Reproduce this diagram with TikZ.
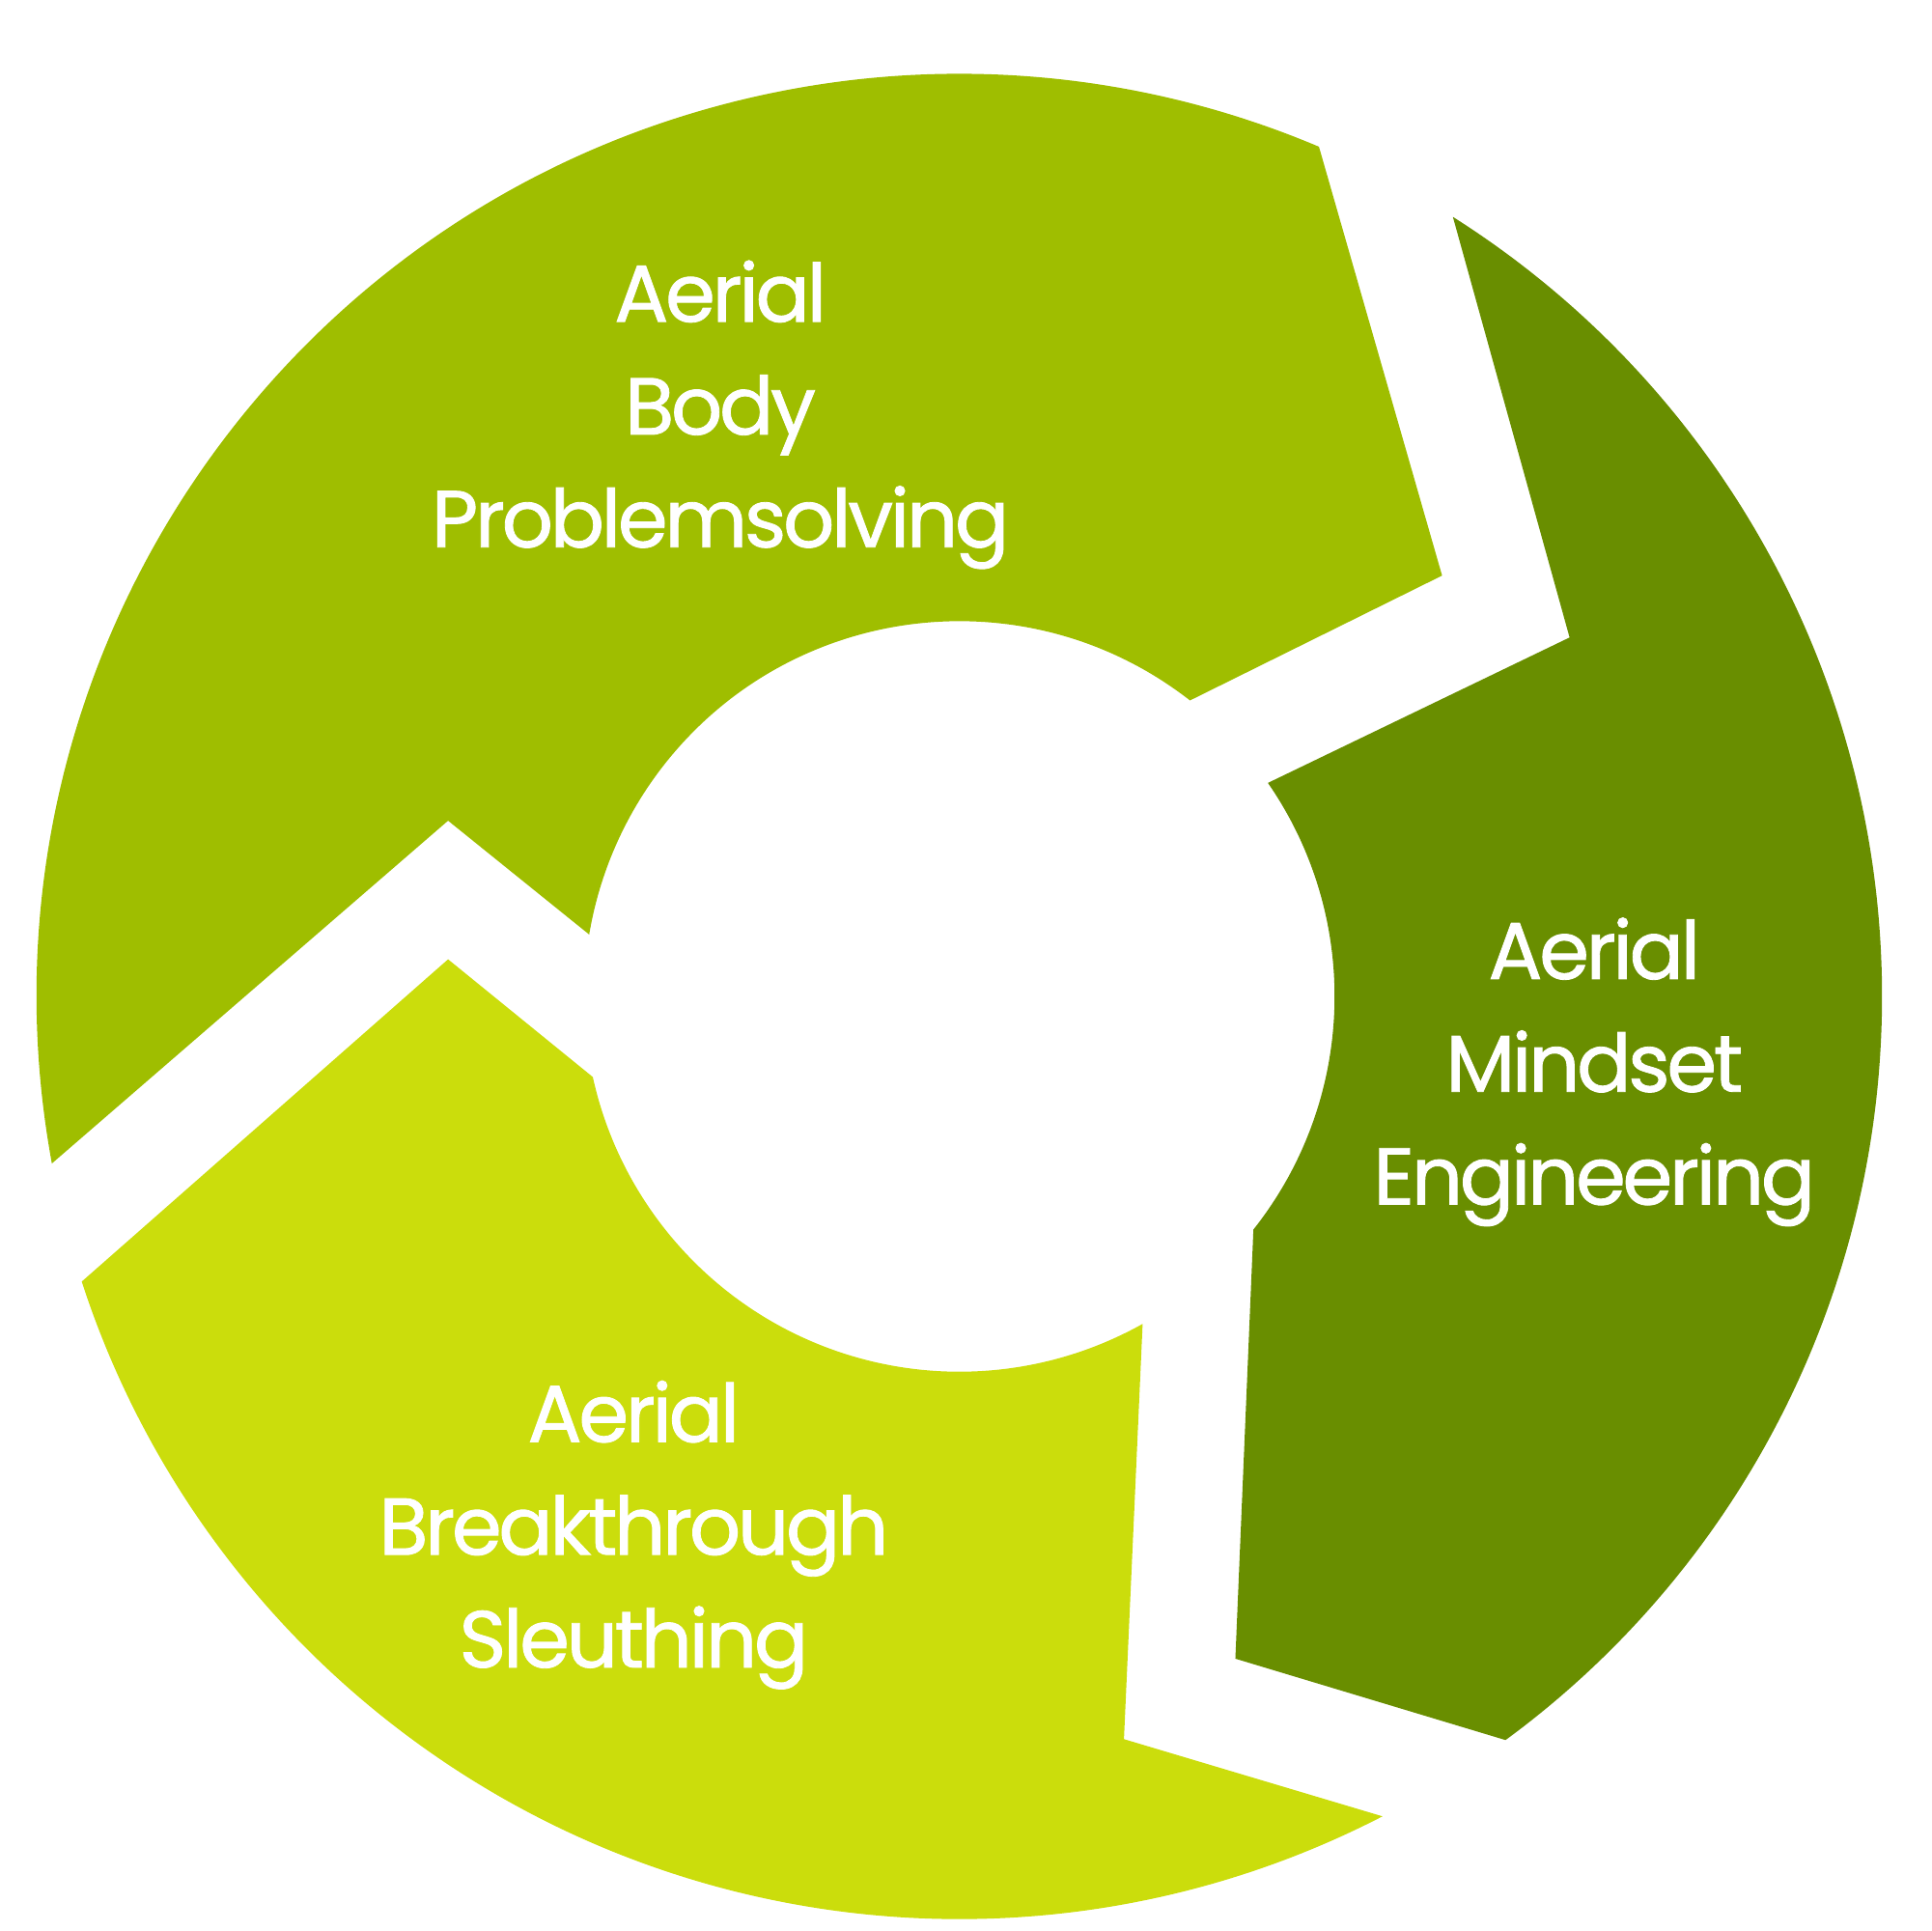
\documentclass[tikz,border=0pt]{standalone}
\usepackage{fontspec}
\newfontfamily\labfont{Poppins}[LetterSpace=-4, FakeBold=1]
\definecolor{segA}{RGB}{159,190,0}
\definecolor{segB}{RGB}{105,142,0}
\definecolor{segC}{RGB}{203,221,12}
\tikzset{
  seglabel/.style={text=white, align=center, font=\labfont\fontsize{18.5}{25.9}\selectfont, inner sep=0pt},
}
\begin{document}
\begin{tikzpicture}[x=0.01cm,y=0.01cm]
\useasboundingbox (-775,-755) rectangle (785,805);
% top segment
\fill[segA] (190.43:7.45cm) arc[start angle=190.43, end angle=67.06, radius=7.45cm]
  -- (390,340) -- (52.07:3.03cm) arc[start angle=52.07, end angle=170.5, radius=3.03cm]
  -- (-413,142) -- cycle;
% right segment
\fill[segB] (57.66:7.45cm) arc[start angle=57.66, end angle=-53.7, radius=7.45cm]
  -- (223,-535) -- (-38.4:3.03cm) arc[start angle=-38.4, end angle=34.68, radius=3.03cm]
  -- (493,290) -- cycle;
% bottom segment
\fill[segC] (-62.7:7.45cm) arc[start angle=-62.7, end angle=-162.0, radius=7.45cm]
  -- (-413,30) -- (-167.6:3.03cm) arc[start angle=-167.6, end angle=-60.76, radius=3.03cm]
  -- (133,-600) -- cycle;
\node[seglabel] (ta) at (-193,470) {Aerial\\Body\\Problemsolving};
\node[seglabel] (tb) at (513,-61) {Aerial\\Mindset\\Engineering};
\node[seglabel] (tc) at (-263,-435) {Aerial\\Breakthrough\\Sleuthing};
\end{tikzpicture}
\end{document}
